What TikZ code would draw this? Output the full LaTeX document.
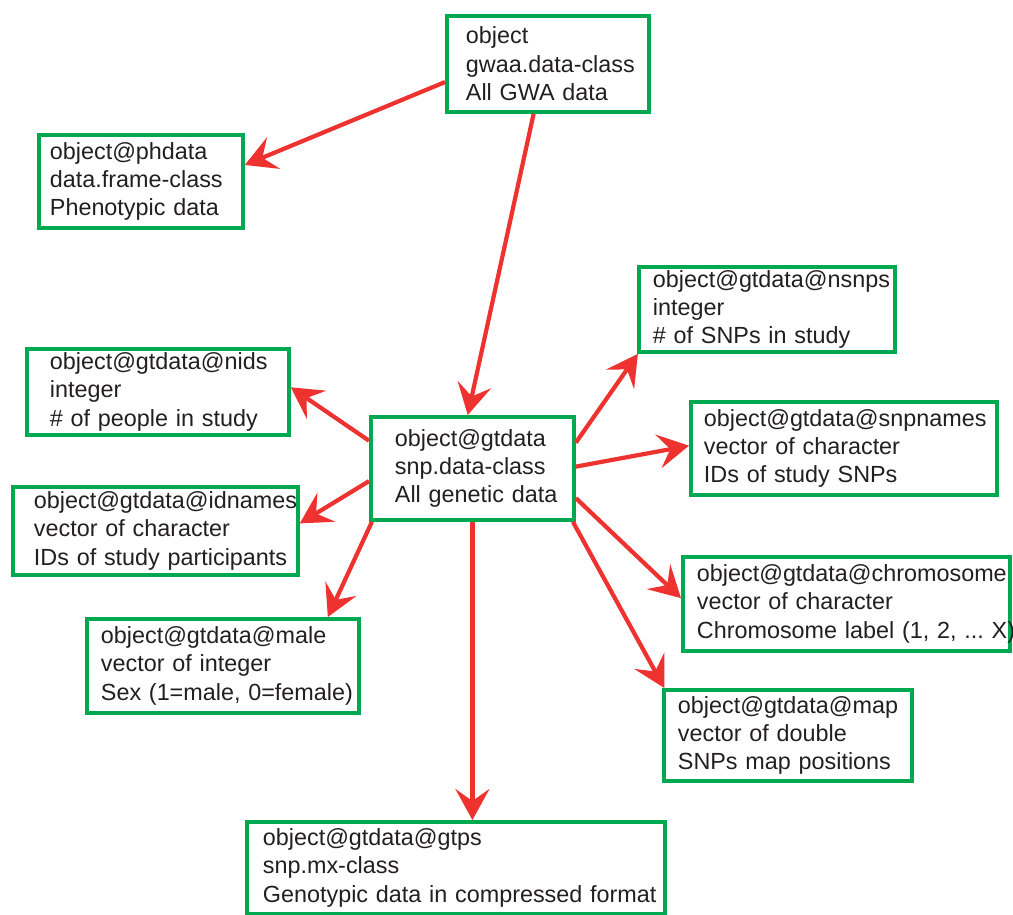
\documentclass[tikz,border=0pt]{standalone}
\usepackage{fontspec}
\newfontfamily\slotfont{Liberation Sans}
\definecolor{SlotColor}{RGB}{0,168,80}
\definecolor{LinkColor}{RGB}{237,50,47}
\definecolor{InkColor}{RGB}{35,31,32}
\usepackage{tikz}
\usetikzlibrary{arrows.meta, positioning, calc}
\frenchspacing
\newcommand{\slotlines}[3]{\mbox{#1}\\\mbox{#2}\\\mbox{#3}}
\tikzset{
  slot/.style={draw=SlotColor, line width=2.2pt, rectangle, anchor=north west, align=left,
    inner ysep=0pt, text=InkColor, font=\slotfont\fontsize{13.3}{16.2}\selectfont},
  link/.style={line width=2.4pt, LinkColor, -{Stealth[length=0.62cm, width=0.68cm, inset=0.24cm]}}
}

\begin{document}
\begin{tikzpicture}[x=0.02cm, y=-0.02cm]
    \useasboundingbox (0,0) rectangle (1013,914);

    % top level object
    \node[slot, inner xsep=0.38cm, text width=3.28cm, minimum height=1.92cm] (gwaa) at (445,14)
        {\slotlines{object}{gwaa.data-class}{All GWA data}};
    \node[slot, inner xsep=0.22cm, text width=3.64cm, minimum height=1.86cm] (phdata) at (37,133)
        {\slotlines{object@phdata}{data.frame-class}{Phenotypic data}};

    % genetic data and its slots
    \node[slot, inner xsep=0.48cm, text width=3.10cm, minimum height=2.06cm] (gtdata) at (369,415)
        {\slotlines{object@gtdata}{snp.data-class}{All genetic data}};
    \node[slot, inner xsep=0.28cm, text width=4.56cm, minimum height=1.70cm] (nsnps) at (637,265)
        {\slotlines{object@gtdata@nsnps}{integer}{\# of SNPs in study}};
    \node[slot, inner xsep=0.46cm, text width=4.32cm, minimum height=1.72cm] (nids) at (25,347)
        {\slotlines{object@gtdata@nids}{integer}{\# of people in study}};
    \node[slot, inner xsep=0.26cm, text width=5.60cm, minimum height=1.86cm] (snpnames) at (689,400)
        {\slotlines{object@gtdata@snpnames}{vector of character}{IDs of study SNPs}};
    \node[slot, inner xsep=0.42cm, text width=4.86cm, minimum height=1.76cm] (idnames) at (11,485)
        {\slotlines{object@gtdata@idnames}{vector of character}{IDs of study participants}};
    \node[slot, inner xsep=0.28cm, text width=5.98cm, minimum height=1.88cm] (chromosome) at (681,555)
        {\slotlines{object@gtdata@chromosome}{vector of character}{Chromosome label (1, 2, ... X)}};
    \node[slot, inner xsep=0.28cm, text width=4.88cm, minimum height=1.88cm] (male) at (85,617)
        {\slotlines{object@gtdata@male}{vector of integer}{Sex (1=male, 0=female)}};
    \node[slot, inner xsep=0.28cm, text width=4.40cm, minimum height=1.82cm] (map) at (662,688)
        {\slotlines{object@gtdata@map}{vector of double}{SNPs map positions}};
    \node[slot, inner xsep=0.32cm, text width=7.72cm, minimum height=1.84cm] (gtps) at (245,820)
        {\slotlines{object@gtdata@gtps}{snp.mx-class}{Genotypic data in compressed format}};

    % links
    \draw[link] (gwaa.190) -- (phdata.9);
    \draw[link] (gwaa.254) -- (gtdata.95);
    \draw[link] (gtdata.165.6) -- (nids.2);
    \draw[link] (gtdata.187.4) -- (idnames.3);
    \draw[link] (gtdata.208.3) -- (male.25);
    \draw[link] (gtdata.south) -- (gtdata.south |- gtps.north);
    \draw[link] (gtdata.14.6) -- (nsnps.199.8);
    \draw[link] (gtdata.1) -- (snpnames.179);
    \draw[link] (gtdata.344) -- (chromosome.178);
    \draw[link] (gtdata.332.6) -- (map.159);
\end{tikzpicture}
\end{document}
